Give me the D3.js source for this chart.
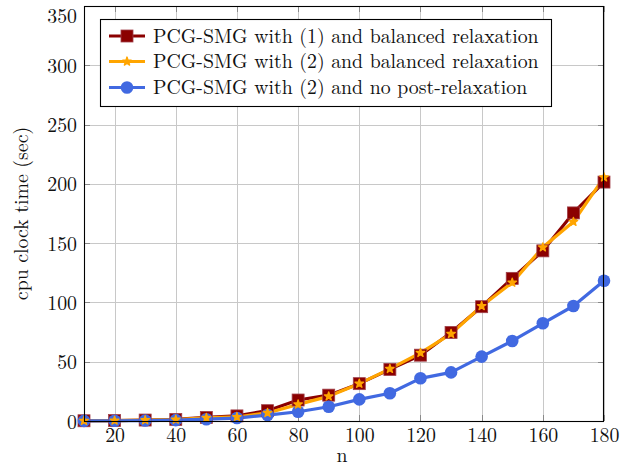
<!DOCTYPE html>
<html>
<head>
<meta charset="utf-8">
<script src="https://cdn.jsdelivr.net/npm/d3@7"></script>
<style>
  html, body { margin: 0; padding: 0; background: #fff; }
  svg { display: block; }
  text { font-family: "Latin Modern Roman", "CMU Serif", "Liberation Serif", "DejaVu Serif", serif; fill: #111; }
</style>
</head>
<body>
<svg id="chart" width="634" height="467"></svg>
<script>
// Problem sizes n
const nValues = [10, 20, 30, 40, 50, 60, 70, 80, 90, 100, 110, 120, 130, 140, 150, 160, 170, 180];

// CPU clock time (sec) per solver variant
const balancedEq1 = [0.2, 0.4, 0.8, 1.3, 3.0, 4.3, 8.7, 17.7, 21.8, 31.5, 43.5, 55.5, 74.7, 96.4, 120.3, 143.5, 175.5, 201.5];
const balancedEq2 = [0.2, 0.4, 0.7, 1.2, 2.6, 3.4, 6.8, 14.0, 20.8, 31.5, 44.0, 57.5, 73.5, 97.0, 116.7, 146.5, 168.0, 205.5];
const noPostEq2   = [0.1, 0.2, 0.4, 0.7, 1.5, 2.5, 5.0, 7.8, 12.0, 18.2, 23.4, 36.0, 41.0, 54.3, 67.5, 82.4, 97.0, 118.3];

const seriesNames = [
  "PCG-SMG with (1) and balanced relaxation",
  "PCG-SMG with (2) and balanced relaxation",
  "PCG-SMG with (2) and no post-relaxation"
];
const seriesColors = ["#8b0000", "#ffa500", "#4169e1"];

const xTicks = [20, 40, 60, 80, 100, 120, 140, 160, 180];
const yTicks = [0, 50, 100, 150, 200, 250, 300, 350];

const series = [
  { name: seriesNames[0], color: seriesColors[0], values: balancedEq1, mark: "square" },
  { name: seriesNames[1], color: seriesColors[1], values: balancedEq2, mark: "star" },
  { name: seriesNames[2], color: seriesColors[2], values: noPostEq2, mark: "circle" }
];

const svg = d3.select("#chart");
const plot = { left: 84, right: 604, top: 6, bottom: 421 };

const x = d3.scaleLinear().domain([10, 180]).range([plot.left, plot.right]);
const y = d3.scaleLinear().domain([0, 350]).range([plot.bottom, plot.top]);

// Legend font size: fit the longest entry to the legend's text column
const probe = svg.append("text").attr("font-size", 17.5).text(seriesNames[0]);
const probeW = probe.node().getComputedTextLength();
probe.remove();
const fontSize = probeW > 0 ? Math.min(20, 17.5 * (539 - 153) / probeW) : 17.5;

// Grid
const grid = svg.append("g").attr("stroke", "#c8c8c8").attr("stroke-width", 1);
grid.selectAll("line.vx").data(xTicks).join("line")
  .attr("x1", d => Math.round(x(d)) + 0.5).attr("x2", d => Math.round(x(d)) + 0.5)
  .attr("y1", plot.top).attr("y2", plot.bottom);
grid.selectAll("line.hy").data(yTicks).join("line")
  .attr("y1", d => Math.round(y(d)) + 0.5).attr("y2", d => Math.round(y(d)) + 0.5)
  .attr("x1", plot.left).attr("x2", plot.right);

// Small inner tick marks on all four sides
const ticks = svg.append("g").attr("stroke", "#8a8a8a").attr("stroke-width", 1);
xTicks.forEach(t => {
  const px = Math.round(x(t)) + 0.5;
  ticks.append("line").attr("x1", px).attr("x2", px).attr("y1", plot.bottom).attr("y2", plot.bottom - 6);
  ticks.append("line").attr("x1", px).attr("x2", px).attr("y1", plot.top).attr("y2", plot.top + 6);
});
yTicks.forEach(t => {
  const py = Math.round(y(t)) + 0.5;
  ticks.append("line").attr("y1", py).attr("y2", py).attr("x1", plot.left).attr("x2", plot.left + 6);
  ticks.append("line").attr("y1", py).attr("y2", py).attr("x1", plot.right).attr("x2", plot.right - 6);
});

// Tick labels via d3 axes (domain and tick lines hidden)
const xAxis = svg.append("g")
  .attr("transform", `translate(0,${plot.bottom})`)
  .call(d3.axisBottom(x).tickValues(xTicks).tickSize(0).tickPadding(8));
const yAxis = svg.append("g")
  .attr("transform", `translate(${plot.left},0)`)
  .call(d3.axisLeft(y).tickValues(yTicks).tickSize(0).tickPadding(7));
[xAxis, yAxis].forEach(a => {
  a.select(".domain").remove();
  a.selectAll("text").attr("font-size", fontSize)
    .attr("font-family", null)
    .attr("fill", "#111");
});
xAxis.selectAll("text").attr("dy", "0.68em");
yAxis.selectAll("text").attr("dy", "0.36em");
// keep the topmost label's box inside the drawing
yAxis.selectAll(".tick").filter(d => d === 350).select("text").each(function () {
  const b = this.getBBox();
  const absTop = y(350) + b.y;
  if (absTop < 0) d3.select(this).attr("y", -absTop);
});

// Lines
const line = d3.line().x((d, i) => x(nValues[i])).y(d => y(d));
series.forEach(s => {
  svg.append("path").datum(s.values)
    .attr("fill", "none").attr("stroke", s.color)
    .attr("stroke-width", 3.2).attr("stroke-linejoin", "round")
    .attr("d", line);
});

// Markers
function drawMark(g, type, color, cx, cy) {
  if (type === "square") {
    g.append("rect").attr("x", cx - 6).attr("y", cy - 6).attr("width", 12).attr("height", 12)
      .attr("fill", color).attr("stroke", "#a0404a").attr("stroke-width", 0.8);
  } else if (type === "circle") {
    g.append("circle").attr("cx", cx).attr("cy", cy).attr("r", 6.3).attr("fill", color);
  } else {
    g.append("path").attr("transform", `translate(${cx},${cy})`)
      .attr("d", d3.symbol().type(d3.symbolStar).size(22)())
      .attr("fill", color).attr("stroke", color).attr("stroke-width", 1.4)
      .attr("stroke-linejoin", "round");
  }
}
const markOrder = [0, 2, 1];
markOrder.forEach(k => {
  const s = series[k];
  const g = svg.append("g");
  s.values.forEach((v, i) => drawMark(g, s.mark, s.color, x(nValues[i]), y(v)));
});

// Frame
svg.append("rect")
  .attr("x", plot.left + 0.5).attr("y", plot.top + 0.5)
  .attr("width", plot.right - plot.left - 1).attr("height", plot.bottom - plot.top)
  .attr("fill", "none").attr("stroke", "#000").attr("stroke-width", 1.1);

// Axis titles
svg.append("text").attr("x", 342).attr("y", 462)
  .attr("text-anchor", "middle").attr("font-size", fontSize).text("n");
svg.append("text")
  .attr("transform", `translate(28,${(plot.top + plot.bottom) / 2}) rotate(-90)`)
  .attr("text-anchor", "middle").attr("font-size", fontSize).text("cpu clock time (sec)");

// Legend
const legend = svg.append("g");
legend.append("rect").attr("x", 100.5).attr("y", 19.5).attr("width", 451).attr("height", 87)
  .attr("fill", "#fff").attr("stroke", "#000").attr("stroke-width", 1.1);
const rowY = [36, 61.5, 87.5];
series.forEach((s, i) => {
  const ry = rowY[i];
  legend.append("line").attr("x1", 109).attr("x2", 145).attr("y1", ry).attr("y2", ry)
    .attr("stroke", s.color).attr("stroke-width", 3.2);
  drawMark(legend, s.mark, s.color, 127, ry);
  legend.append("text").attr("x", 153).attr("y", ry).attr("dy", "0.35em")
    .attr("font-size", fontSize).text(s.name);
});
</script>
</body>
</html>
